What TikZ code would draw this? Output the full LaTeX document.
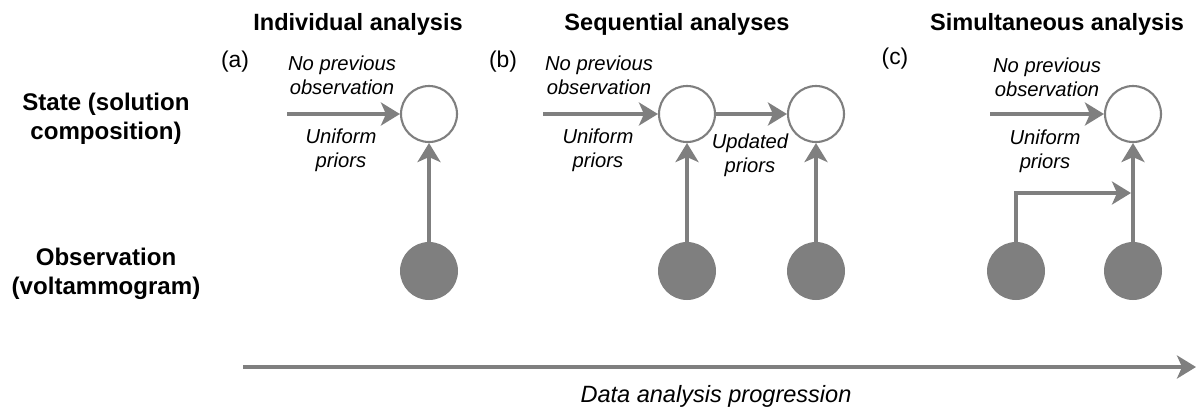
\documentclass[tikz,border=0pt]{standalone}
\usepackage{fontspec}
\setmainfont{Liberation Sans}
\usepackage{tikz}
\usetikzlibrary{arrows.meta}
\definecolor{flowgray}{HTML}{7F7F7F}

\begin{document}
\begin{tikzpicture}[x=0.02cm,y=-0.02cm,
  state/.style={circle,draw=flowgray,line width=1.2pt,fill=white,minimum size=1.12cm,inner sep=0pt},
  obs/.style={circle,fill=flowgray,minimum size=1.16cm,inner sep=0pt},
  flow/.style={draw=flowgray,line width=2.3pt,-{Stealth[length=0.38cm,width=0.46cm,inset=0.1cm]}},
  head/.style={font=\fontsize{13.4}{16}\selectfont\bfseries},
  side/.style={font=\fontsize{13.7}{16.5}\selectfont\bfseries,align=center},
  tag/.style={font=\fontsize{13}{15}\selectfont},
  note/.style={font=\fontsize{11.5}{13.7}\selectfont\itshape,align=center}]
\useasboundingbox (0,0) rectangle (1196,410);
\node[head] (ha) at (358,24) {Individual analysis};
\node[head] (hb) at (677,24) {Sequential analyses};
\node[head] (hc) at (1057,24) {Simultaneous analysis};
\node[side] (lstate) at (106,119) {State (solution\\composition)};
\node[side] (lobs) at (106,274) {Observation\\(voltammogram)};
\node[tag] (pa) at (235,62) {(a)};
\node[tag] (pb) at (503,62) {(b)};
\node[tag] (pc) at (895,59) {(c)};

\node[state] (sa) at (429,114) {};
\node[obs] (oa) at (429,271) {};
\coordinate (ina) at (287,114);
\draw[flow] (ina) -- (sa);
\draw[flow] (oa) -- (sa);
\node[note] (na) at (342,75) {No previous\\observation};
\node[note] (ua) at (341,150) {Uniform\\priors};

\node[state] (sb1) at (687,114) {};
\node[state] (sb2) at (816,114) {};
\node[obs] (ob1) at (687,271) {};
\node[obs] (ob2) at (816,271) {};
\coordinate (inb) at (543,114);
\draw[flow] (inb) -- (sb1);
\draw[flow] (sb1) -- (sb2);
\draw[flow] (ob1) -- (sb1);
\draw[flow] (ob2) -- (sb2);
\node[note] (nb) at (599,75) {No previous\\observation};
\node[note] (ub) at (598,150) {Uniform\\priors};
\node[note] (upd) at (750,155) {Updated\\priors};

\node[state] (sc) at (1133,114) {};
\node[obs] (oc1) at (1016,271) {};
\node[obs] (oc2) at (1133,271) {};
\coordinate (inc) at (990,114);
\coordinate (jc) at (1131,193);
\draw[flow] (inc) -- (sc);
\draw[flow] (oc2) -- (sc);
\draw[flow] (oc1.north) |- (jc);
\node[note] (nc) at (1047,77) {No previous\\observation};
\node[note] (uc) at (1045,151) {Uniform\\priors};

\coordinate (prog0) at (243,367);
\coordinate (prog1) at (1196,367);
\draw[flow] (prog0) -- (prog1);
\node[note,font=\fontsize{13.4}{15}\selectfont\itshape] (lprog) at (716,396) {Data analysis progression};
\end{tikzpicture}
\end{document}
